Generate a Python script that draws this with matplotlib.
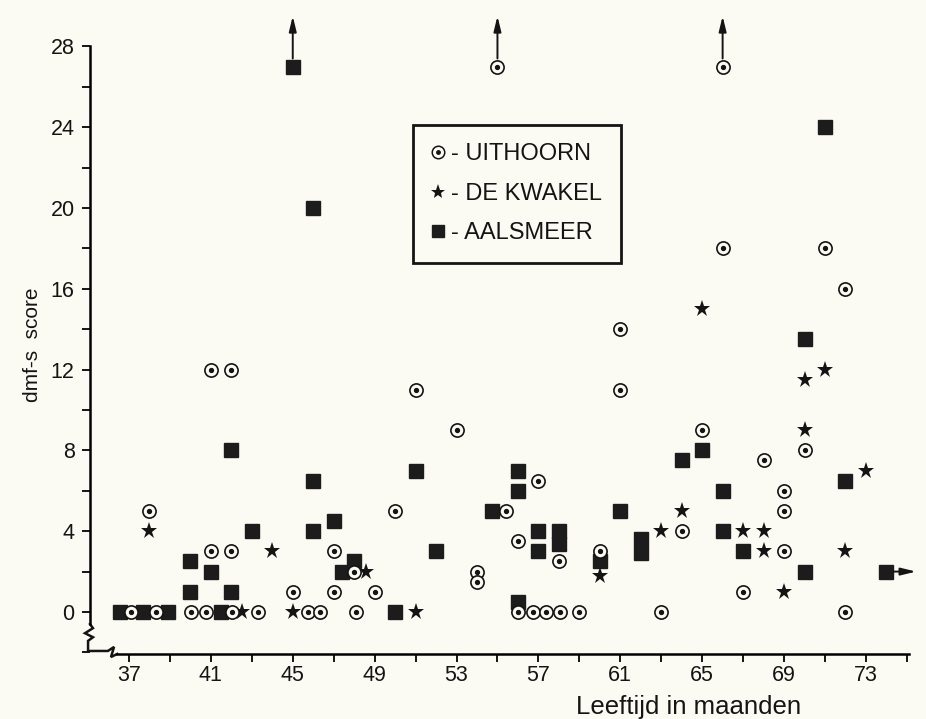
import matplotlib.pyplot as plt
from matplotlib.lines import Line2D
from matplotlib.ticker import FixedLocator, MultipleLocator

plt.rcParams['font.family'] = ['Liberation Sans', 'DejaVu Sans']

# Uithoorn (circle with dot)
uit_x = [37.1, 38.3, 40.05, 40.75, 42.05, 43.3, 45.75, 46.35, 48.1, 56, 56.75, 57.35, 58.05, 59, 63, 72,
         38, 41, 42, 45, 41, 42, 51, 53, 50, 47, 48, 54, 54, 47, 49,
         61, 65, 57, 55.4, 56, 58, 60, 64, 70, 68, 69, 69, 69, 67,
         55, 66, 66, 71, 72, 61]
uit_y = [0, 0, 0, 0, 0, 0, 0, 0, 0, 0, 0, 0, 0, 0, 0, 0,
         5, 3, 3, 1, 12, 12, 11, 9, 5, 3, 2, 2, 1.5, 1, 1,
         11, 9, 6.5, 5, 3.5, 2.5, 3, 4, 8, 7.5, 6, 5, 3, 1,
         27, 27, 18, 18, 16, 14]

# De Kwakel (star)
kwa_x = [38, 42.5, 44, 45, 48.6, 51, 60, 63, 64, 65, 67, 68, 68, 69, 70, 71, 70, 73, 72]
kwa_y = [4, 0, 3, 0, 2, 0, 1.8, 4, 5, 15, 4, 4, 3, 1, 11.5, 12, 9, 7, 3]

# Aalsmeer (square)
aal_x = [36.55, 37.7, 38.9, 41.5, 40, 41, 40, 42, 42, 43, 45, 46,
         46, 47, 46, 48, 47.4, 52, 51, 50, 54.75,
         56, 56, 57, 58, 58, 57, 56, 60, 61, 62, 62,
         64, 65, 66, 66, 67, 70, 71, 72, 70, 74]
aal_y = [0, 0, 0, 0, 2.5, 2, 1, 1, 8, 4, 27, 20,
         6.5, 4.5, 4, 2.5, 2, 3, 7, 0, 5,
         7, 6, 4, 4, 3.35, 3, 0.5, 2.5, 5, 3.6, 2.9,
         7.5, 8, 6, 4, 3, 13.5, 24, 6.5, 2, 2]

x_ticks = list(range(37, 76, 2))
x_labels = list(range(37, 74, 4))
labels = ['- UITHOORN', '- DE KWAKEL', '- AALSMEER']

bg = '#fcfbf3'
ink = '#141414'

fig = plt.figure(figsize=(9.26, 7.19), dpi=100, facecolor=bg)
ax = fig.add_axes([90 / 926, 1 - 654 / 719, 819 / 926, (654 - 46.4) / 719])
ax.set_facecolor(bg)
ax.set_xlim(35.095, 75.105)
ax.set_ylim(-2.08, 28.0)

# markers
ax.plot(aal_x, aal_y, 's', ms=10, color='#1c1c1c', ls='none', zorder=3)
ax.plot(kwa_x, kwa_y, '*', ms=12.5, color=ink, mew=0, ls='none', zorder=3)
ax.plot(uit_x, uit_y, 'o', ms=9.5, mfc=bg, mec=ink, mew=1.2, ls='none', zorder=4)
ax.plot(uit_x, uit_y, 'o', ms=2.8, color=ink, ls='none', zorder=5)

# off-scale arrows
arrow = dict(arrowstyle='-|>,head_length=0.9,head_width=0.22', color=ink, lw=1.4, shrinkA=0, shrinkB=0)
for xs, ys in [(uit_x, uit_y), (aal_x, aal_y)]:
    for x, y in zip(xs, ys):
        if y >= 27:
            ax.annotate('', xy=(x, 29.5), xytext=(x, 27.4), arrowprops=arrow, annotation_clip=False)
        if x >= 74:
            ax.annotate('', xy=(x + 1.45, y), xytext=(x + 0.35, y), arrowprops=arrow, annotation_clip=False)

# axes with break
for s in ['top', 'right']:
    ax.spines[s].set_visible(False)
ax.spines['left'].set_linewidth(1.8)
ax.spines['bottom'].set_linewidth(1.8)
ax.spines['left'].set_bounds(-0.6, 28)
ax.spines['bottom'].set_bounds(36.4, 75.105)
brk_x = [35.095, 35.24, 34.85, 35.24, 35.0, 35.0, 35.97, 36.27, 36.12, 36.42]
brk_y = [-0.6, -0.8, -1.05, -1.25, -1.43, -1.93, -1.93, -1.73, -2.23, -2.08]
ax.plot(brk_x, brk_y, color=ink, lw=1.8, clip_on=False, solid_joinstyle='miter')

ax.xaxis.set_major_locator(FixedLocator(x_labels))
ax.xaxis.set_minor_locator(FixedLocator([t for t in x_ticks if t not in x_labels]))
ax.yaxis.set_major_locator(MultipleLocator(4))
ax.yaxis.set_minor_locator(MultipleLocator(2))
ax.tick_params(which='both', direction='out', length=6, width=1.4, color=ink, labelcolor=ink, labelsize=15.5)
ax.tick_params(axis='x', pad=2)
ax.tick_params(axis='y', pad=5)

ax.set_ylabel('dmf-s  score', fontsize=15, color=ink)
ax.yaxis.set_label_coords(-0.058, 0.5086)
ax.set_xlabel('Leeftijd in maanden', fontsize=18.5, color=ink)
ax.xaxis.set_label_coords(0.731, -0.068)

h_uit = (Line2D([], [], marker='o', ms=9, mfc=bg, mec=ink, mew=1.1, ls='none'),
         Line2D([], [], marker='o', ms=2.5, color=ink, ls='none'))
h_kwa = Line2D([], [], marker='*', ms=11, color=ink, mew=0, ls='none')
h_aal = Line2D([], [], marker='s', ms=9, color='#1c1c1c', ls='none')
leg = ax.legend([h_uit, h_kwa, h_aal], labels, loc='upper left', bbox_to_anchor=(0.394, 0.8706),
                borderaxespad=0, fontsize=17, frameon=True, fancybox=False, framealpha=1,
                facecolor=bg, edgecolor=ink, borderpad=0.78, labelspacing=0.74,
                handlelength=0.6, handletextpad=0.25)
leg.get_frame().set_linewidth(2)
for t in leg.get_texts():
    t.set_color(ink)

fig.savefig('out.png', dpi=100, facecolor=bg)
